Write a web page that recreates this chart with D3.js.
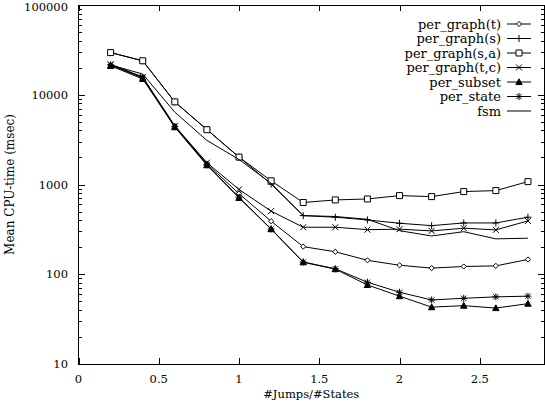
<!DOCTYPE html>
<html><head><meta charset="utf-8">
<script src="https://cdn.jsdelivr.net/npm/d3@7"></script>
<style>body{margin:0;background:#fff}svg{display:block}</style>
</head><body><svg id="c" width="545" height="402"></svg>
<script>
// ---- data ----
const xValues = [0.2, 0.4, 0.6, 0.8, 1.0, 1.2, 1.4, 1.6, 1.8, 2.0, 2.2, 2.4, 2.6, 2.8];
const perGraphT  = [21500, 15500, 4450, 1700, 790, 390, 203, 178, 143, 126, 117, 122, 124, 146];
const perGraphS  = [29500, 23900, 8300, 4100, 2020, 1010, 450, 432, 403, 370, 348, 373, 373, 432];
const perGraphSA = [29500, 23900, 8330, 4080, 2020, 1100, 630, 673, 690, 752, 733, 834, 855, 1077];
const perGraphTC = [21800, 15800, 4500, 1750, 880, 505, 334, 334, 314, 318, 304, 326, 312, 393];
const perSubset  = [21000, 15000, 4350, 1640, 710, 318, 136, 114, 76, 57, 43, 44.7, 42, 47];
const perState   = [21500, 15500, 4420, 1660, 720, 320, 137, 115, 81.5, 63, 51.7, 54, 56, 57];
const fsm        = [21500, 17000, 6400, 3100, 1900, 1030, 450, 440, 410, 306, 267, 298, 248, 252];
const seriesNames = ["per_graph(t)", "per_graph(s)", "per_graph(s,a)", "per_graph(t,c)", "per_subset", "per_state", "fsm"];
const seriesMarkers = ["diamond", "plus", "square", "cross", "triangle", "star", "none"];
const xTicks = [0, 0.5, 1, 1.5, 2, 2.5];
const yTicks = [10, 100, 1000, 10000, 100000];
const xTitle = "#Jumps/#States";
const yTitle = "Mean CPU-time (msec)";

const seriesValues = [perGraphT, perGraphS, perGraphSA, perGraphTC, perSubset, perState, fsm];

// ---- layout ----
const L = 78.5, R = 544, T = 5, B = 364;
const svg = d3.select("#c");
const x = d3.scaleLinear().domain([0, 2.9]).range([L, R]);
const y = d3.scaleLog().domain([10, 100000]).range([B, T]);
const FONT = "'DejaVu Serif', serif";

// minor log ticks
const minor = [];
for (let d = 10; d < 100000; d *= 10) for (let k = 2; k <= 9; k++) minor.push(d * k);

const g = svg.append("g");
// ticks (mirrored on all four sides)
const tk = g.append("g").attr("stroke", "#000").attr("stroke-width", 1).attr("shape-rendering", "crispEdges");
yTicks.forEach(v => {
  const yy = Math.round(y(v)) + 0.5;
  tk.append("line").attr("x1", L).attr("x2", L + 6).attr("y1", yy).attr("y2", yy);
  tk.append("line").attr("x1", R).attr("x2", R - 6).attr("y1", yy).attr("y2", yy);
});
minor.forEach(v => {
  const yy = Math.round(y(v)) + 0.5;
  tk.append("line").attr("x1", L).attr("x2", L + 3).attr("y1", yy).attr("y2", yy);
  tk.append("line").attr("x1", R).attr("x2", R - 3).attr("y1", yy).attr("y2", yy);
});
xTicks.forEach(v => {
  const xx = Math.round(x(v)) + 0.5;
  tk.append("line").attr("x1", xx).attr("x2", xx).attr("y1", B).attr("y2", B - 6);
  tk.append("line").attr("x1", xx).attr("x2", xx).attr("y1", T).attr("y2", T + 6);
});
// frame
g.append("rect").attr("x", L).attr("y", T).attr("width", R - L).attr("height", B - T)
  .attr("fill", "none").attr("stroke", "#000").attr("stroke-width", 1).attr("shape-rendering", "crispEdges");

// tick labels
g.append("g").selectAll("text").data(yTicks).join("text")
  .attr("x", 68).attr("y", d => Math.max(y(d), 6.5)).attr("dy", "0.36em").attr("text-anchor", "end")
  .attr("font-family", FONT).attr("font-size", 11.5).text(d => String(d));
g.append("g").selectAll("text").data(xTicks).join("text")
  .attr("x", d => x(d)).attr("y", 383).attr("text-anchor", "middle")
  .attr("font-family", FONT).attr("font-size", 11.5).text(d => String(d));

// axis titles
g.append("text").attr("x", (L + R) / 2).attr("y", 398).attr("text-anchor", "middle")
  .attr("font-family", FONT).attr("font-size", 11.5).text(xTitle);
g.append("text").attr("transform", `translate(14,${(T + B) / 2}) rotate(-90)`).attr("text-anchor", "middle")
  .attr("font-family", FONT).attr("font-size", 12).text(yTitle);

// markers
function markerPath(type, s) {
  switch (type) {
    case "diamond": return `M0,${-s}L${s},0L0,${s}L${-s},0Z`;
    case "plus": return `M${-s},0H${s}M0,${-s}V${s}`;
    case "square": return `M${-s},${-s}H${s}V${s}H${-s}Z`;
    case "cross": return `M${-s},${-s}L${s},${s}M${-s},${s}L${s},${-s}`;
    case "triangle": return `M0,${-s}L${s},${s * 0.8}L${-s},${s * 0.8}Z`;
    case "star": { const c = s * 0.75; return `M${-s},0H${s}M0,${-s}V${s}M${-c},${-c}L${c},${c}M${-c},${c}L${c},${-c}`; }
  }
  return "";
}
const markerSize = { diamond: 2.6, plus: 3.5, square: 3, cross: 3, triangle: 3.2, star: 3.5 };

const line = d3.line().x((d, i) => x(xValues[i])).y(d => y(d));
const plot = g.append("g");
seriesValues.forEach((vals, si) => {
  plot.append("path").datum(vals).attr("d", line)
    .attr("fill", "none").attr("stroke", "#000").attr("stroke-width", 1);
  const m = seriesMarkers[si];
  if (m !== "none") {
    plot.append("g").selectAll("path").data(vals).join("path")
      .attr("transform", (d, i) => `translate(${x(xValues[i])},${y(d)})`)
      .attr("d", markerPath(m, markerSize[m]))
      .attr("fill", m === "triangle" ? "#000" : (m === "square" || m === "diamond" ? "#fff" : "none"))
      .attr("stroke", "#000").attr("stroke-width", 1);
  }
});

// legend
const leg = g.append("g");
seriesNames.forEach((name, i) => {
  const yy = 24 + i * 14.5;
  leg.append("text").attr("x", 501).attr("y", yy).attr("dy", "0.35em").attr("text-anchor", "end")
    .attr("font-family", FONT).attr("font-size", 13).text(name);
  leg.append("line").attr("x1", 507).attr("x2", 531).attr("y1", yy).attr("y2", yy)
    .attr("stroke", "#000").attr("stroke-width", 1);
  const m = seriesMarkers[i];
  if (m !== "none") {
    leg.append("path").attr("transform", `translate(519,${yy})`).attr("d", markerPath(m, markerSize[m]))
      .attr("fill", m === "triangle" ? "#000" : (m === "square" || m === "diamond" ? "#fff" : "none"))
      .attr("stroke", "#000").attr("stroke-width", 1);
  }
});
</script></body></html>
